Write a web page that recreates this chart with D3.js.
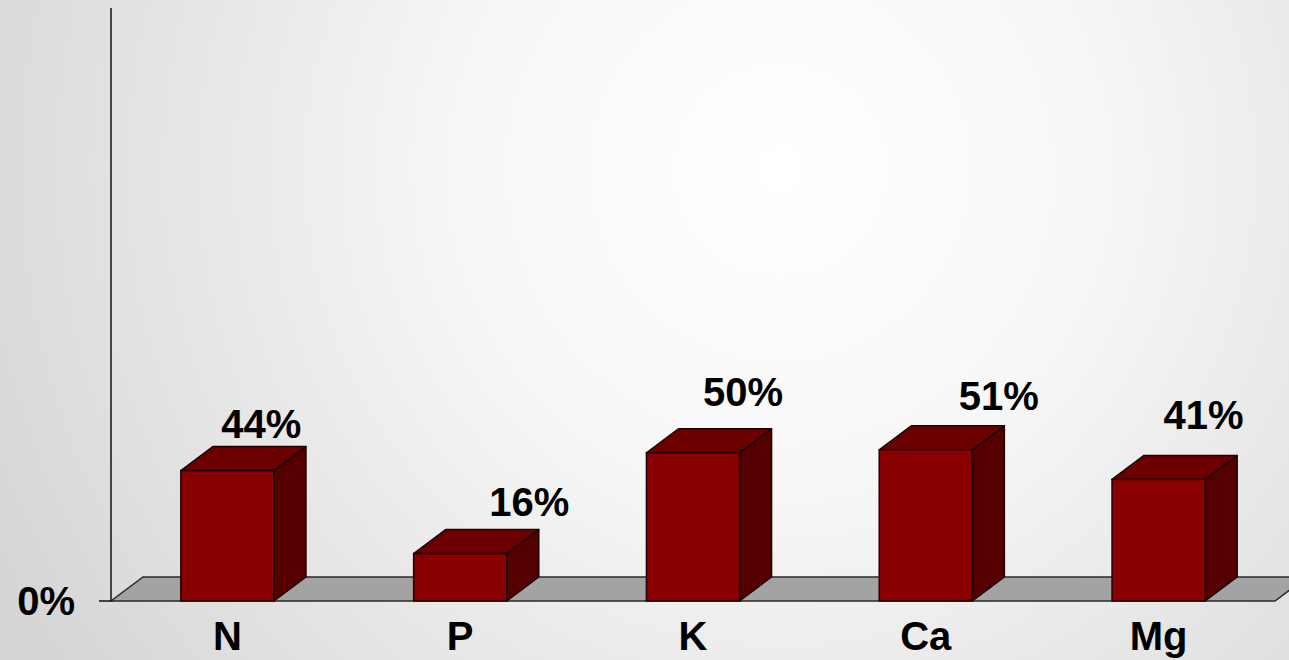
<!DOCTYPE html>
<html>
<head>
<meta charset="utf-8">
<script src="https://cdn.jsdelivr.net/npm/d3@7"></script>
<style>
html,body{margin:0;padding:0;overflow:hidden;}
svg{display:block;}
</style>
</head>
<body>
<svg id="chart" width="1289" height="660"></svg>
<script>
const categories = ["N", "P", "K", "Ca", "Mg"];
const values = [44, 16, 50, 51, 41];
const valueLabels = ["44%", "16%", "50%", "51%", "41%"];
const yTickLabels = ["0%"];
// hand-placed label nudges (px) relative to default label position
const labelNudgeX = [-21, 14, -5, 18, -10];
const labelNudgeY = [9, 4, -5, 2.5, -8];

const W = 1289, H = 660;
const svg = d3.select("#chart");

// background gradient
const defs = svg.append("defs");
const rg = defs.append("radialGradient").attr("id", "bg")
  .attr("gradientUnits", "userSpaceOnUse")
  .attr("cx", 780).attr("cy", 170).attr("r", 900);
rg.append("stop").attr("offset", "0%").attr("stop-color", "#ffffff");
rg.append("stop").attr("offset", "35%").attr("stop-color", "#f7f7f7");
rg.append("stop").attr("offset", "100%").attr("stop-color", "#d4d4d4");
svg.append("rect").attr("width", W).attr("height", H).attr("fill", "url(#bg)");

const x0 = 111, x1 = 1275, yBase = 601, yTop = 8;
const depthX = 32, depthY = 24;

const x = d3.scaleBand().domain(categories).range([x0, x1])
  .paddingInner(0.6).paddingOuter(0.3);
const y = d3.scaleLinear().domain([0, 200]).range([yBase, yTop]);

// floor
svg.append("polygon")
  .attr("points", [[x0, y(0)], [x1, y(0)], [x1 + depthX, y(0) - depthY], [x0 + depthX, y(0) - depthY]].map(p => p.join(",")).join(" "))
  .attr("fill", "#a3a3a3").attr("stroke", "#2a2a2a").attr("stroke-width", 1.5);

// y axis line
svg.append("line").attr("x1", x0).attr("x2", x0).attr("y1", y(200)).attr("y2", y(0))
  .attr("stroke", "#111").attr("stroke-width", 1.5);
// tick
svg.append("line").attr("x1", x0 - 12).attr("x2", x0).attr("y1", y(0)).attr("y2", y(0))
  .attr("stroke", "#111").attr("stroke-width", 1.5);
svg.selectAll("text.ytick").data(yTickLabels).enter().append("text")
  .attr("class", "ytick")
  .attr("x", 75).attr("y", y(0) + 14)
  .attr("text-anchor", "end")
  .attr("font-family", "Liberation Sans, Arial, sans-serif")
  .attr("font-weight", "bold").attr("font-size", 40).attr("fill", "#000")
  .text(d => d);

const font = "Liberation Sans, Arial, sans-serif";
const bars = svg.selectAll("g.bar").data(categories).enter().append("g").attr("class", "bar");
const pts = a => a.map(p => p.join(",")).join(" ");
bars.each(function(c, i) {
  const g = d3.select(this);
  const xl = x(c), xr = x(c) + x.bandwidth();
  const yt = y(values[i]), yb = y(0);
  // side
  g.append("polygon")
    .attr("points", pts([[xr, yb], [xr + depthX, yb - depthY], [xr + depthX, yt - depthY], [xr, yt]]))
    .attr("fill", "#540000").attr("stroke", "#1e0000").attr("stroke-width", 1.5).attr("stroke-linejoin", "round");
  // top
  g.append("polygon")
    .attr("points", pts([[xl, yt], [xr, yt], [xr + depthX, yt - depthY], [xl + depthX, yt - depthY]]))
    .attr("fill", "#6c0000").attr("stroke", "#1e0000").attr("stroke-width", 1.5).attr("stroke-linejoin", "round");
  // front
  g.append("rect")
    .attr("x", xl).attr("y", yt).attr("width", xr - xl).attr("height", yb - yt)
    .attr("fill", "#890000").attr("stroke", "#1e0000").attr("stroke-width", 1.5);
});

// value labels
svg.selectAll("text.vlabel").data(categories).enter().append("text")
  .attr("class", "vlabel")
  .attr("x", (c, i) => x(c) + x.bandwidth() / 2 + 55 + labelNudgeX[i])
  .attr("y", (c, i) => y(values[i]) - 42 + labelNudgeY[i])
  .attr("text-anchor", "middle")
  .attr("font-family", font).attr("font-weight", "bold").attr("font-size", 40).attr("fill", "#000")
  .text((c, i) => valueLabels[i]);

// category labels
svg.selectAll("text.clabel").data(categories).enter().append("text")
  .attr("class", "clabel")
  .attr("x", c => x(c) + x.bandwidth() / 2)
  .attr("y", 650)
  .attr("text-anchor", "middle")
  .attr("font-family", font).attr("font-weight", "bold").attr("font-size", 40).attr("fill", "#000")
  .text(c => c);
</script>
</body>
</html>
